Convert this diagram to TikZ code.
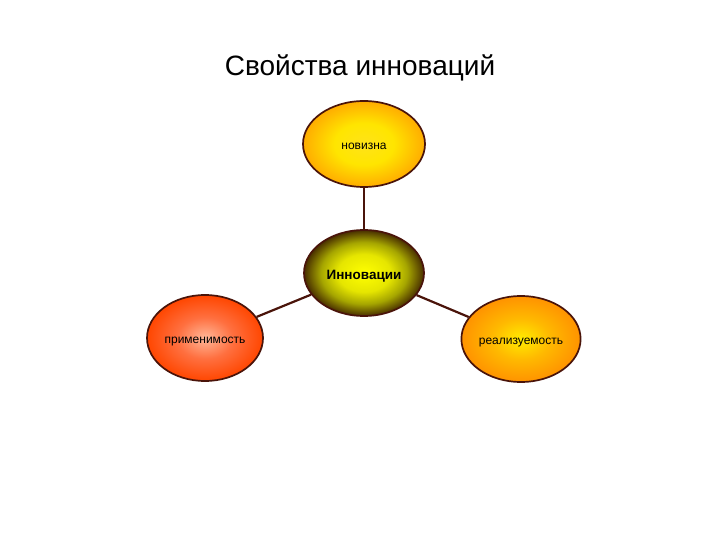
\documentclass[tikz,border=0pt]{standalone}
\usepackage{fontspec}
\setmainfont{Liberation Sans}
\usetikzlibrary{shapes.geometric}
\definecolor{edgebrown}{HTML}{4A140A}
\pgfdeclareradialshading{topshade}{\pgfpoint{0bp}{0bp}}{color(0bp)=(yellow!75!orange!90!white); color(12bp)=(yellow!80!orange); color(25bp)=(orange!65!yellow); color(50bp)=(orange!65!yellow)}
\pgfdeclareradialshading{centershade}{\pgfpoint{0bp}{0bp}}{color(0bp)=(yellow); color(11bp)=(yellow!90!black); color(18bp)=(yellow!65!black); color(25bp)=(yellow!20!black!90!red); color(50bp)=(yellow!20!black!90!red)}
\pgfdeclareradialshading{leftshade}{\pgfpoint{0bp}{0bp}}{color(0bp)=(red!40!orange!40!white); color(12bp)=(red!50!orange!75!white); color(25bp)=(red!45!orange); color(50bp)=(red!45!orange)}
\pgfdeclareradialshading{rightshade}{\pgfpoint{0bp}{0bp}}{color(0bp)=(yellow!85!orange); color(12bp)=(orange!55!yellow); color(25bp)=(orange!85!yellow); color(50bp)=(orange!85!yellow)}
\tikzset{
  bubble/.style={ellipse, draw=edgebrown, line width=1.7pt, inner sep=0pt, minimum width=120pt, minimum height=86pt, font=\fontsize{12}{14}\selectfont, text height=10.5pt, text depth=0pt},
  link/.style={draw=edgebrown, line width=2.2pt}
}
\begin{document}
\begin{tikzpicture}[x=1pt,y=-1pt]
\useasboundingbox[fill=white] (0,0) rectangle (720,540);
\node (title) at (360,68) {\fontsize{28}{32}\selectfont Свойства инноваций};
\node[bubble, shading=topshade, minimum width=122pt] (top) at (364,144) {новизна};
\node[bubble, shading=centershade, text height=13pt] (center) at (364,273) {\fontsize{13.5}{16}\selectfont\bfseries Инновации};
\node[bubble, shading=leftshade, minimum width=116pt, text height=11.5pt] (left) at (205,338) {применимость};
\node[bubble, shading=rightshade, minimum width=118pt, text height=11.5pt] (right) at (521,339) {реализуемость};
\draw[link] (top) -- (center);
\draw[link] (left) -- (center);
\draw[link] (center) -- (right);
\end{tikzpicture}
\end{document}
